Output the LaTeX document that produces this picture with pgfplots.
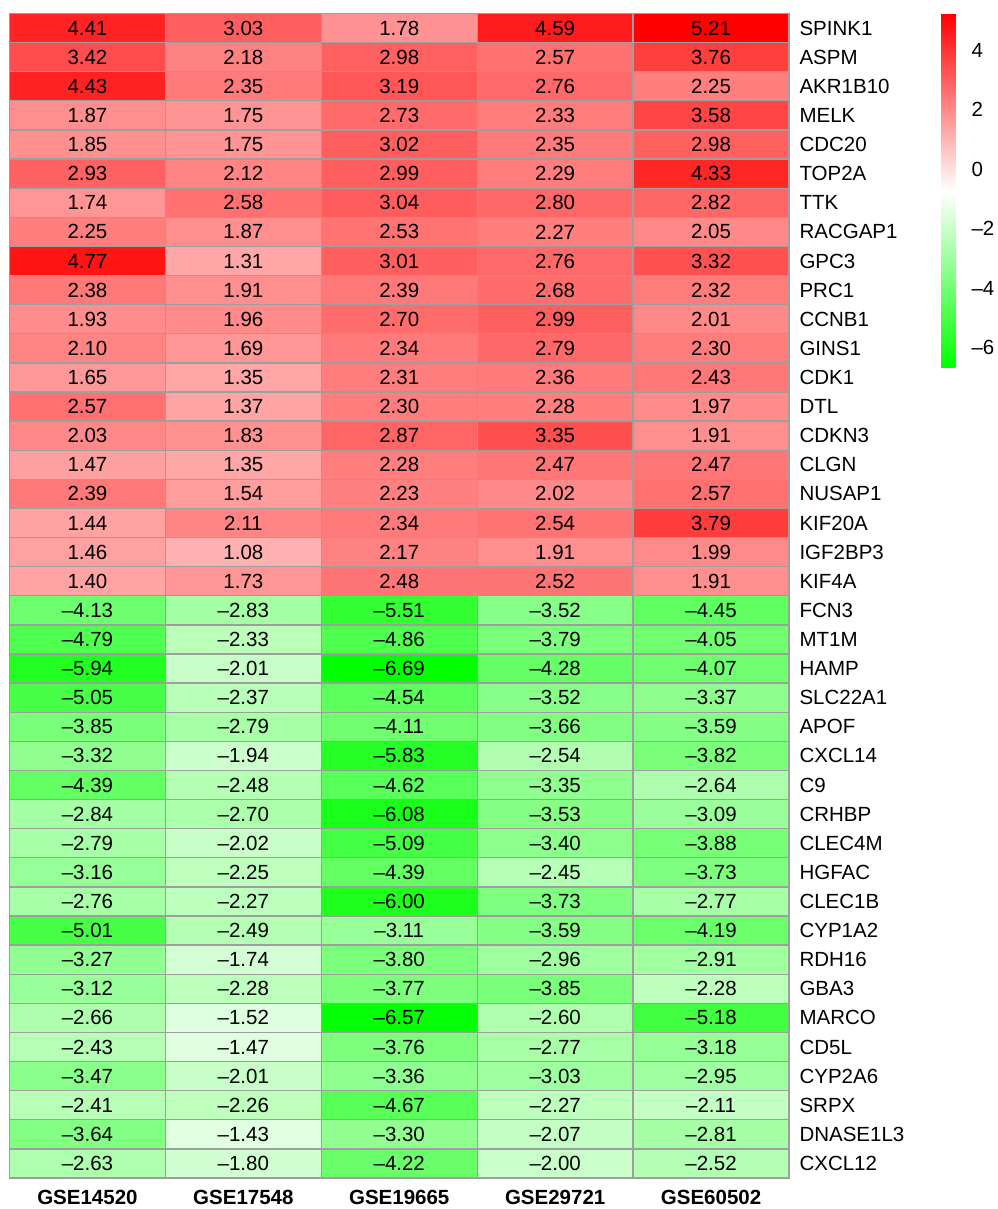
\documentclass[border=0pt]{standalone}
\usepackage{fontspec}
\setmainfont{Liberation Sans}
\usepackage{pgfplots}
\usepackage{pgfplotstable}
\pgfplotsset{compat=1.18}
\definecolor{borderc}{RGB}{158,158,158}
\pgfplotstableread{
x y v lab
0 0 4.41 4.41
1 0 3.03 3.03
2 0 1.78 1.78
3 0 4.59 4.59
4 0 5.21 5.21
0 1 3.42 3.42
1 1 2.18 2.18
2 1 2.98 2.98
3 1 2.57 2.57
4 1 3.76 3.76
0 2 4.43 4.43
1 2 2.35 2.35
2 2 3.19 3.19
3 2 2.76 2.76
4 2 2.25 2.25
0 3 1.87 1.87
1 3 1.75 1.75
2 3 2.73 2.73
3 3 2.33 2.33
4 3 3.58 3.58
0 4 1.85 1.85
1 4 1.75 1.75
2 4 3.02 3.02
3 4 2.35 2.35
4 4 2.98 2.98
0 5 2.93 2.93
1 5 2.12 2.12
2 5 2.99 2.99
3 5 2.29 2.29
4 5 4.33 4.33
0 6 1.74 1.74
1 6 2.58 2.58
2 6 3.04 3.04
3 6 2.80 2.80
4 6 2.82 2.82
0 7 2.25 2.25
1 7 1.87 1.87
2 7 2.53 2.53
3 7 2.27 2.27
4 7 2.05 2.05
0 8 4.77 4.77
1 8 1.31 1.31
2 8 3.01 3.01
3 8 2.76 2.76
4 8 3.32 3.32
0 9 2.38 2.38
1 9 1.91 1.91
2 9 2.39 2.39
3 9 2.68 2.68
4 9 2.32 2.32
0 10 1.93 1.93
1 10 1.96 1.96
2 10 2.70 2.70
3 10 2.99 2.99
4 10 2.01 2.01
0 11 2.10 2.10
1 11 1.69 1.69
2 11 2.34 2.34
3 11 2.79 2.79
4 11 2.30 2.30
0 12 1.65 1.65
1 12 1.35 1.35
2 12 2.31 2.31
3 12 2.36 2.36
4 12 2.43 2.43
0 13 2.57 2.57
1 13 1.37 1.37
2 13 2.30 2.30
3 13 2.28 2.28
4 13 1.97 1.97
0 14 2.03 2.03
1 14 1.83 1.83
2 14 2.87 2.87
3 14 3.35 3.35
4 14 1.91 1.91
0 15 1.47 1.47
1 15 1.35 1.35
2 15 2.28 2.28
3 15 2.47 2.47
4 15 2.47 2.47
0 16 2.39 2.39
1 16 1.54 1.54
2 16 2.23 2.23
3 16 2.02 2.02
4 16 2.57 2.57
0 17 1.44 1.44
1 17 2.11 2.11
2 17 2.34 2.34
3 17 2.54 2.54
4 17 3.79 3.79
0 18 1.46 1.46
1 18 1.08 1.08
2 18 2.17 2.17
3 18 1.91 1.91
4 18 1.99 1.99
0 19 1.40 1.40
1 19 1.73 1.73
2 19 2.48 2.48
3 19 2.52 2.52
4 19 1.91 1.91
0 20 -4.13 –4.13
1 20 -2.83 –2.83
2 20 -5.51 –5.51
3 20 -3.52 –3.52
4 20 -4.45 –4.45
0 21 -4.79 –4.79
1 21 -2.33 –2.33
2 21 -4.86 –4.86
3 21 -3.79 –3.79
4 21 -4.05 –4.05
0 22 -5.94 –5.94
1 22 -2.01 –2.01
2 22 -6.69 –6.69
3 22 -4.28 –4.28
4 22 -4.07 –4.07
0 23 -5.05 –5.05
1 23 -2.37 –2.37
2 23 -4.54 –4.54
3 23 -3.52 –3.52
4 23 -3.37 –3.37
0 24 -3.85 –3.85
1 24 -2.79 –2.79
2 24 -4.11 –4.11
3 24 -3.66 –3.66
4 24 -3.59 –3.59
0 25 -3.32 –3.32
1 25 -1.94 –1.94
2 25 -5.83 –5.83
3 25 -2.54 –2.54
4 25 -3.82 –3.82
0 26 -4.39 –4.39
1 26 -2.48 –2.48
2 26 -4.62 –4.62
3 26 -3.35 –3.35
4 26 -2.64 –2.64
0 27 -2.84 –2.84
1 27 -2.70 –2.70
2 27 -6.08 –6.08
3 27 -3.53 –3.53
4 27 -3.09 –3.09
0 28 -2.79 –2.79
1 28 -2.02 –2.02
2 28 -5.09 –5.09
3 28 -3.40 –3.40
4 28 -3.88 –3.88
0 29 -3.16 –3.16
1 29 -2.25 –2.25
2 29 -4.39 –4.39
3 29 -2.45 –2.45
4 29 -3.73 –3.73
0 30 -2.76 –2.76
1 30 -2.27 –2.27
2 30 -6.00 –6.00
3 30 -3.73 –3.73
4 30 -2.77 –2.77
0 31 -5.01 –5.01
1 31 -2.49 –2.49
2 31 -3.11 –3.11
3 31 -3.59 –3.59
4 31 -4.19 –4.19
0 32 -3.27 –3.27
1 32 -1.74 –1.74
2 32 -3.80 –3.80
3 32 -2.96 –2.96
4 32 -2.91 –2.91
0 33 -3.12 –3.12
1 33 -2.28 –2.28
2 33 -3.77 –3.77
3 33 -3.85 –3.85
4 33 -2.28 –2.28
0 34 -2.66 –2.66
1 34 -1.52 –1.52
2 34 -6.57 –6.57
3 34 -2.60 –2.60
4 34 -5.18 –5.18
0 35 -2.43 –2.43
1 35 -1.47 –1.47
2 35 -3.76 –3.76
3 35 -2.77 –2.77
4 35 -3.18 –3.18
0 36 -3.47 –3.47
1 36 -2.01 –2.01
2 36 -3.36 –3.36
3 36 -3.03 –3.03
4 36 -2.95 –2.95
0 37 -2.41 –2.41
1 37 -2.26 –2.26
2 37 -4.67 –4.67
3 37 -2.27 –2.27
4 37 -2.11 –2.11
0 38 -3.64 –3.64
1 38 -1.43 –1.43
2 38 -3.30 –3.30
3 38 -2.07 –2.07
4 38 -2.81 –2.81
0 39 -2.63 –2.63
1 39 -1.80 –1.80
2 39 -4.22 –4.22
3 39 -2.00 –2.00
4 39 -2.52 –2.52
}\heat
\begin{document}
\begin{tikzpicture}
\begin{axis}[
  name=main,
  scale only axis,
  width=779.5pt, height=1164.5pt,
  xmin=-0.5, xmax=4.5, ymin=-0.5, ymax=39.5,
  y dir=reverse,
  font=\fontsize{20.5}{24}\selectfont,
  xtick={0,1,2,3,4},
  xticklabels={GSE14520,GSE17548,GSE19665,GSE29721,GSE60502},
  xticklabel style={font=\fontsize{20.5}{24}\selectfont\bfseries, anchor=base, yshift=-26pt},
  ytick={0,1,...,39},
  yticklabels={SPINK1,ASPM,AKR1B10,MELK,CDC20,TOP2A,TTK,RACGAP1,GPC3,PRC1,CCNB1,GINS1,CDK1,DTL,CDKN3,CLGN,NUSAP1,KIF20A,IGF2BP3,KIF4A,FCN3,MT1M,HAMP,SLC22A1,APOF,CXCL14,C9,CRHBP,CLEC4M,HGFAC,CLEC1B,CYP1A2,RDH16,GBA3,MARCO,CD5L,CYP2A6,SRPX,DNASE1L3,CXCL12},
  yticklabel pos=right,
  yticklabel style={font=\fontsize{20.5}{24}\selectfont, anchor=west, xshift=7pt},
  major tick length=0pt, minor tick length=0pt,
  tick style={draw=none},
  minor xtick={-0.5,0.5,...,4.5},
  minor ytick={-0.5,0.5,...,39.5},
  xminorgrids, yminorgrids,
  minor grid style={draw=borderc, line width=1.3pt},
  axis line style={draw=borderc, line width=1.3pt},
  axis on top,
  colormap={gwr}{rgb255(0cm)=(0,255,0); rgb255(1cm)=(255,255,255); rgb255(2cm)=(255,0,0)},
  point meta min=-6.69, point meta max=5.21,
  colorbar,
  colorbar style={
    at={(parent axis.north east)}, anchor=north west,
    xshift=143.5pt, yshift=-0.5pt,
    scale only axis, width=24pt, height=354pt,
    ytick={-6,-4,-2,0,2,4},
    yticklabels={–6,–4,–2,0,2,4},
    yticklabel style={font=\fontsize{20.5}{24}\selectfont, anchor=west, xshift=3pt},
    axis line style={draw=none},
    major tick length=0pt,
    tick style={draw=none},
  },
]
\addplot[matrix plot*, mesh/cols=5, point meta=explicit] table[x=x, y=y, meta=v] {\heat};
\addplot[draw=none, nodes near coords, nodes near coords align={center}, point meta=explicit symbolic,
  every node near coord/.append style={text=black, font=\fontsize{20.5}{24}\selectfont, anchor=center}]
  table[x=x, y=y, meta=lab] {\heat};
\end{axis}
\path (main.south west) ++(-9.5pt,-31pt);
\path (main.north east) ++(203pt,13.5pt);
\end{tikzpicture}
\end{document}
